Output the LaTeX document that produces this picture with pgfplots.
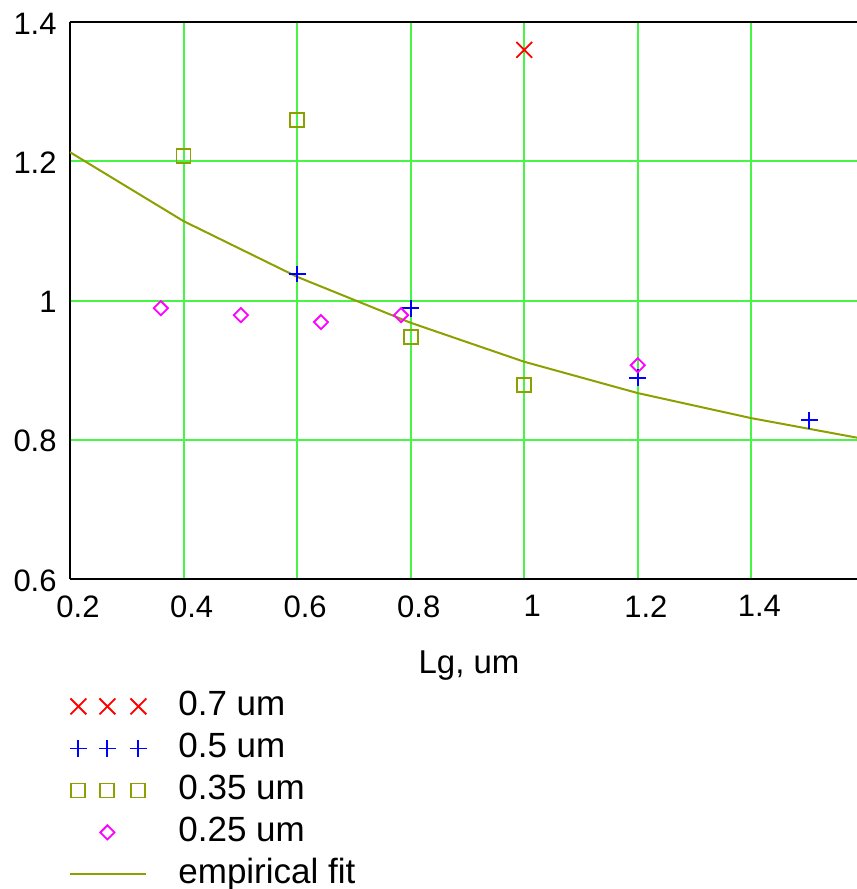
\documentclass[border=0pt]{standalone}
\usepackage{fontspec}
\setmainfont{Liberation Sans}
\usepackage{pgfplots}
\pgfplotsset{compat=1.18}
\definecolor{gridgreen}{RGB}{70,245,70}
\definecolor{olivefit}{RGB}{140,160,0}
\definecolor{mred}{RGB}{255,0,0}
\definecolor{mblue}{RGB}{0,0,255}
\definecolor{mmag}{RGB}{255,0,255}
\begin{document}
\begin{tikzpicture}
\begin{axis}[
  scale only axis,
  width=393.5bp, height=278.5bp,
  xmin=0.2, xmax=1.586, ymin=0.6, ymax=1.4,
  xtick={0.2,0.4,0.6,0.8,1,1.2,1.4},
  ytick={0.6,0.8,1,1.2,1.4},
  xticklabels={0.2,0.4,0.6,0.8,1,1.2,1.4},
  yticklabels={0.6,0.8,1,1.2,1.4},
  axis x line*=box, axis y line*=left,
  y axis line style={-},
  axis line style={black, line width=1bp},
  major tick length=0pt,
  grid=major,
  major grid style={gridgreen, line width=1bp},
  ticklabel style={font=\fontsize{15.5bp}{18bp}\selectfont},
  xticklabel style={inner sep=0pt, anchor=north, yshift=-8bp, xshift=4bp},
  yticklabel style={inner sep=0pt, anchor=east, xshift=-6.5bp, yshift=-0.7bp},
  xlabel={Lg, um},
  xlabel style={at={(axis description cs:0.507,0)}, anchor=base, yshift=-47bp, inner sep=0pt, font=\fontsize{16.5bp}{19bp}\selectfont},
  legend cell align=left,
  legend style={at={(axis description cs:0,0)}, anchor=north west, xshift=-0.5bp, yshift=-55bp,
    draw=none, fill=none, inner sep=0pt, column sep=15.5bp, row sep=4bp,
    font=\fontsize{17.5bp}{20bp}\selectfont,
    nodes={inner sep=0pt, text height=13bp, text depth=4bp}},
  tricolegend/.style={legend image code/.code={%
    \path[draw=none, fill=none] (0bp,0bp) -- (38bp,0bp);
    \draw[##1, only marks, mark repeat=1, mark phase=1] plot coordinates {(4bp,0bp) (18.5bp,0bp) (34bp,0bp)};}},
  onelegend/.style={legend image code/.code={%
    \path[draw=none, fill=none] (0bp,0bp) -- (38bp,0bp);
    \draw[##1, only marks] plot coordinates {(18.5bp,0bp)};}},
  linelegend/.style={legend image code/.code={%
    \draw[##1] (0bp,0bp) -- (38bp,0bp);}},
]
\addplot[only marks, mark=x, mark size=5.6bp, mred, line width=0.9bp, tricolegend] coordinates {(1.0,1.36)};
\addlegendentry{0.7 um}
\addplot[only marks, mark=+, mark size=4.2bp, mblue, line width=0.9bp, tricolegend] coordinates {
 (0.6,1.038) (0.8,0.989) (1.2,0.889) (1.502,0.828)};
\addlegendentry{0.5 um}
\addplot[only marks, mark=square, mark size=3.5bp, olivefit, line width=0.9bp, tricolegend] coordinates {
 (0.4,1.208) (0.6,1.259) (0.8,0.948) (1.0,0.879)};
\addlegendentry{0.35 um}
\addplot[only marks, mark=square, mark size=2.5bp, mark options={rotate=45}, mmag, line width=0.9bp, onelegend] coordinates {
 (0.360,0.989) (0.501,0.979) (0.642,0.969) (0.783,0.979) (1.2,0.907)};
\addlegendentry{0.25 um}
\addplot[olivefit, line width=1bp, mark=none, linelegend] coordinates {
 (0.2,1.213) (0.4,1.114) (0.6,1.034) (0.8,0.968) (1.0,0.912) (1.2,0.867) (1.4,0.831) (1.586,0.803)};
\addlegendentry{empirical fit}
\end{axis}
\pgfresetboundingbox
\path[use as bounding box] ([shift={(-35bp,-155bp)}]current axis.south west) rectangle ([shift={(0bp,11bp)}]current axis.north east);
\end{tikzpicture}
\end{document}
